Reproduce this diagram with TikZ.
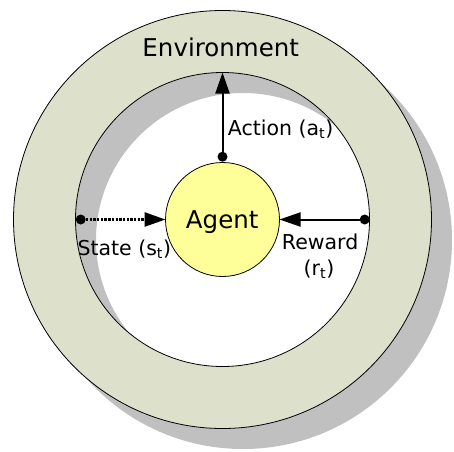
\documentclass[tikz,border=0pt]{standalone}
\usepackage{fontspec}
\setmainfont{DejaVu Sans}
\usetikzlibrary{arrows.meta}
\usetikzlibrary{positioning}

\definecolor{ringfill}{HTML}{DDE0CA}
\definecolor{shadowgray}{HTML}{C0C0C0}
\definecolor{agentfill}{HTML}{FFFF99}

\tikzset{
  ringline/.style={circle,draw,line width=0.8pt,inner sep=0pt,outer sep=0pt},
  agentbox/.style={circle,draw,line width=0.8pt,fill=agentfill,inner sep=0pt,outer sep=0pt,minimum size=114pt},
  tipdot/.style={circle,fill=black,inner sep=0pt,minimum size=10pt},
  flow/.style={line width=2pt},
  biglabel/.style={inner sep=0pt,font=\fontsize{24.5}{29}\selectfont},
  smalllabel/.style={inner sep=0pt,font=\fontsize{20.5}{25.7}\selectfont}
}

\begin{document}
\begin{tikzpicture}[line cap=round,line join=round,>={Triangle[length=21pt,width=14pt]},x=1pt,y=1pt]
\useasboundingbox (0,0) rectangle (454,451);
% shadow under the ring
\fill [shadowgray,even odd rule] (243,211) circle (209) (243,211) circle (147);
% environment ring
\fill [ringfill,even odd rule] (222.5,231.5) circle (209) (222.5,231.5) circle (147);
\node [ringline,minimum size=418pt] (outer) at (222.5,231.5) {};
\node [ringline,minimum size=294pt] (inner) at (222.5,231.5) {};
\node [agentbox] (agent) at (222.5,231.5) {};
% labels
\node [biglabel,anchor=base] (envlabel) at (220.7,394.3) {Environment};
\node [biglabel,anchor=base] (agentlabel) at (222.2,222.7) {Agent};
\node [smalllabel,anchor=base west] (actlabel) at (227.7,316) {Action (a\textsubscript{t})};
\node [smalllabel,anchor=base west] (statelabel) at (77.3,196) {State (s\textsubscript{t})};
\node [smalllabel,anchor=base west] (rewlabel) at (281.7,201.7) {Reward};
\node [smalllabel,anchor=base] (rewsub) at (319,176) {(r\textsubscript{t})};
% arrows between agent and environment
\node [tipdot] (actdot) at (222.5,294.3) {};
\node [tipdot] (statedot) at (80.7,231.5) {};
\node [tipdot] (rewdot) at (364.7,231.5) {};
\draw [flow,->] (actdot) -- (inner.north);
\draw [flow,->,line width=2.6pt,line cap=butt,dash pattern=on 2.4pt off 1.3pt] (statedot) -- (agent.west);
\draw [flow,->] (rewdot) -- (agent.east);
\end{tikzpicture}
\end{document}
